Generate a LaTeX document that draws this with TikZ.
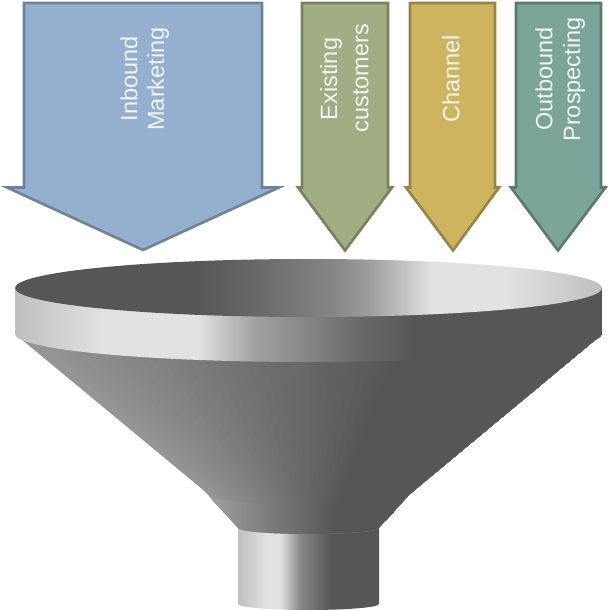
\documentclass[tikz,border=0pt]{standalone}
\usepackage{fontspec}
\setmainfont{Liberation Sans}
\definecolor{blueF}{HTML}{95B0CE}\definecolor{blueL}{HTML}{6F8297}
\definecolor{greenF}{HTML}{A1AD82}\definecolor{greenL}{HTML}{78825F}
\definecolor{goldF}{HTML}{CFB45F}\definecolor{goldL}{HTML}{988545}
\definecolor{tealF}{HTML}{7BA598}\definecolor{tealL}{HTML}{5A7A70}
\definecolor{txt}{HTML}{F2F4F4}
\definecolor{gA}{RGB}{85,87,86}\definecolor{gB}{RGB}{105,107,106}\definecolor{gC}{RGB}{135,137,137}
\definecolor{gD}{RGB}{160,162,162}\definecolor{gE}{RGB}{190,192,192}\definecolor{gF}{RGB}{225,227,227}
\definecolor{gL}{RGB}{148,150,150}
\pgfdeclarehorizontalshading{innerS}{100bp}{color(0bp)=(gA);color(40.5bp)=(gA);color(46bp)=(gB);color(52.5bp)=(gC);color(55.5bp)=(gD);color(60.5bp)=(gF);color(67bp)=(gF);color(75bp)=(gE);color(100bp)=(gE)}
\pgfdeclarehorizontalshading{bandS}{100bp}{color(0bp)=(gE);color(25bp)=(gE);color(32.5bp)=(gF);color(40.5bp)=(gF);color(45.5bp)=(gD);color(49.5bp)=(gC);color(54bp)=(gB);color(59bp)=(gA);color(100bp)=(gA)}
\pgfdeclarehorizontalshading{neckS}{100bp}{color(0bp)=(gD);color(25bp)=(gD);color(56bp)=(gA);color(100bp)=(gA)}
\pgfdeclarehorizontalshading{spoutS}{100bp}{color(0bp)=(gE);color(25bp)=(gE);color(35.5bp)=(gF);color(40bp)=(gF);color(47bp)=(gC);color(58bp)=(gA);color(100bp)=(gA)}
\tikzset{
  inarrow/.style={line width=2.6pt,line join=miter,miter limit=10},
  lbl/.style={rotate=90,text=txt,font=\fontsize{23.5}{23.5}\selectfont,inner sep=0pt,anchor=center},
}
\begin{document}
\begin{tikzpicture}[x=1pt,y=-1pt]
\useasboundingbox (0,0) rectangle (610,610);
% arrows
\draw[inarrow,draw=blueL,fill=blueF] (24,3)--(262,3)--(262,187.5)--(279,187.5)--(143,250)--(7,187.5)--(24,187.5)--cycle;
\draw[inarrow,draw=greenL,fill=greenF] (302,3)--(388,3)--(388,187.5)--(392,187.5)--(345,250.5)--(298,187.5)--(302,187.5)--cycle;
\draw[inarrow,draw=goldL,fill=goldF] (410,3)--(495,3)--(495,187.5)--(499,187.5)--(453,250.5)--(406,187.5)--(410,187.5)--cycle;
\draw[inarrow,draw=tealL,fill=tealF] (516,3)--(601,3)--(601,187.5)--(605.5,187.5)--(558,250.5)--(511,187.5)--(516,187.5)--cycle;
% labels
\node[lbl] (inb) at (129,79) {Inbound};
\node[lbl] (mkt) at (158,79) {Marketing};
\node[lbl] (exi) at (331,79) {Existing};
\node[lbl] (cus) at (361,78) {customers};
\node[lbl] (cha) at (451,79) {Channel};
\node[lbl] (out) at (544,79) {Outbound};
\node[lbl] (pro) at (574,79.5) {Prospecting};
% spout
\begin{scope}
\clip (238,520)--(238,604) arc[start angle=180,end angle=360,x radius=70.5pt,y radius=6pt]--(379,520)--cycle;
\shade[shading=spoutS] (238,515) rectangle (379,612);
\end{scope}
% cone
\begin{scope}
\clip (15,334)--(199,486.5) .. controls (205,491.5) and (209,495.5) .. (214,502)--(238,528) arc[start angle=180,end angle=360,x radius=70.5pt,y radius=6pt]--(379,528)--(404,500) .. controls (408,495.5) and (412,492) .. (418,487)--(602,334)--cycle;
\fill[gL] (0,320) rectangle (620,540);
\foreach \i in {0,...,50}{
  \pgfmathsetmacro{\tt}{\i/50}
  \pgfmathsetmacro{\p}{min(100,\tt/0.65*100)}
  \pgfmathsetmacro{\xt}{15+587*\tt}
  \pgfmathsetmacro{\xe}{240.2+139*\tt}
  \fill[gA!\p!gL] (\xt,330)--(\xe,520)--(620,520)--(620,330)--cycle;
}
\begin{scope}
\clip (190,493)--(210.5,496) arc[start angle=180,end angle=360,x radius=98pt,y radius=8pt]--(430,560)--(190,560)--cycle;
\shade[shading=neckS] (207,488) rectangle (412,540);
\fill[gD] (190,488) rectangle (207.5,540);
\fill[gA] (411.5,488) rectangle (430,540);
\end{scope}
\end{scope}
% band
\begin{scope}
\clip (15,287.5)--(15,334) arc[start angle=180,end angle=360,x radius=293.5pt,y radius=28pt]--(602,287.5)--cycle;
\shade[shading=bandS] (15,280) rectangle (602,365);
\end{scope}
% rim opening
\begin{scope}
\clip (308.5,288) ellipse[x radius=293.5pt,y radius=29pt];
\shade[shading=innerS] (15,258) rectangle (602,318);
\end{scope}
\end{tikzpicture}
\end{document}
